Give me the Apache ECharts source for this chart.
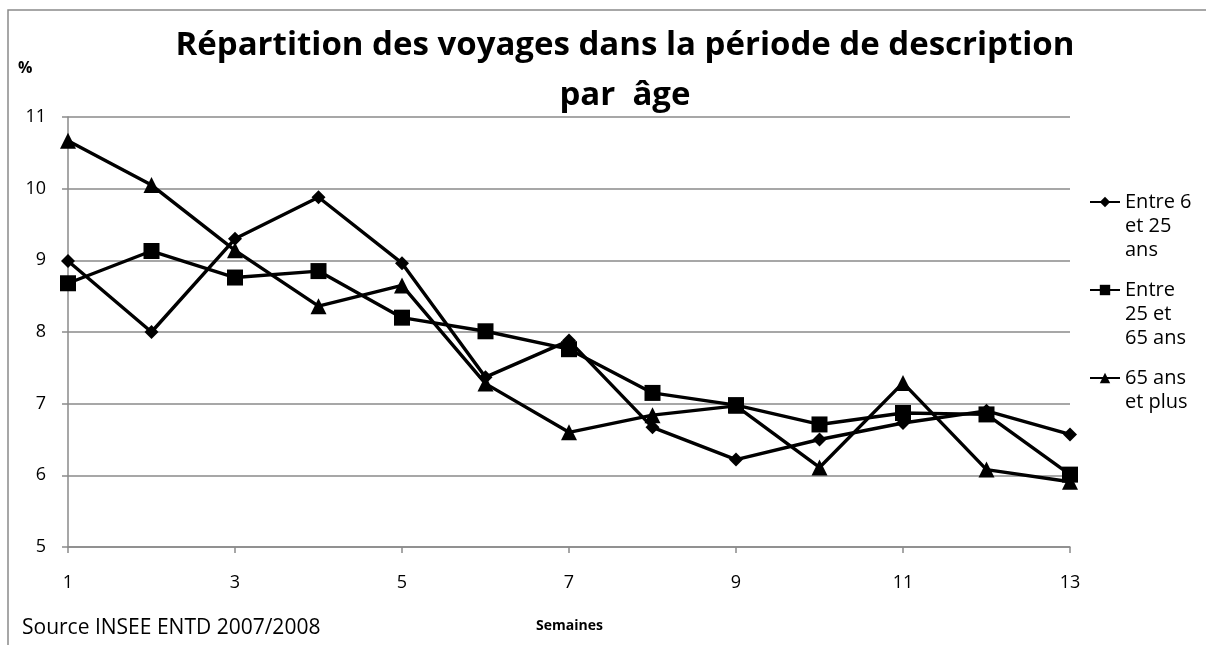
<!DOCTYPE html>
<html><head><meta charset="utf-8">
<script src="https://cdn.jsdelivr.net/npm/echarts@6/dist/echarts.min.js"></script>
<style>html,body{margin:0;padding:0;background:#fff}#c{width:1206px;height:645px}</style>
</head><body><div id="c"></div>
<script>
const weeks = ['1','2','3','4','5','6','7','8','9','10','11','12','13'];
const seriesNames = ['Entre 6\net 25\nans', 'Entre\n25 et\n65 ans', '65 ans\net plus'];
const age6to25 = [8.99, 8.00, 9.30, 9.88, 8.96, 7.37, 7.88, 6.67, 6.22, 6.50, 6.73, 6.90, 6.57];
const age25to65 = [8.68, 9.13, 8.76, 8.85, 8.20, 8.01, 7.76, 7.15, 6.98, 6.71, 6.87, 6.85, 6.01];
const age65plus = [10.67, 10.05, 9.14, 8.36, 8.65, 7.28, 6.60, 6.84, 6.97, 6.11, 7.29, 6.08, 5.91];
const yTicks = [5, 6, 7, 8, 9, 10, 11];
const titleText = 'Répartition des voyages dans la période de description\npar  âge';

const FONT = '"Open Sans", sans-serif';
const gray = '#8a8a8a';
const chart = echarts.init(document.getElementById('c'), null, {renderer: 'canvas'});
const symbols = ['diamond', 'rect', 'triangle'];
const symSizes = [14, 16, 16];
const values = [age6to25, age25to65, age65plus];
const legendIconY = [202, 290, 378];
const LH = 24;

chart.setOption({
  animation: false,
  backgroundColor: '#fff',
  textStyle: {fontFamily: FONT},
  title: {
    text: titleText, left: 620, top: 16, textAlign: 'center',
    textStyle: {fontFamily: FONT, fontWeight: 'bold', fontSize: 33, lineHeight: 50, color: '#000'}
  },
  grid: {left: 68, right: 136, top: 117, bottom: 98},
  legend: seriesNames.map((n, i) => {
    const nl = n.split('\n').length;
    const total = 2 * nl - 1;
    return {
      data: [n], left: 1089, top: legendIconY[i] - total * LH / 2,
      orient: 'vertical', padding: 0, itemWidth: 30, itemHeight: 13, selectedMode: false,
      formatter: name => '\n'.repeat(nl - 1) + name,
      textStyle: {fontFamily: FONT, fontSize: 20, color: '#000', lineHeight: LH}
    };
  }),
  xAxis: {
    type: 'category', data: weeks, boundaryGap: false,
    axisLine: {lineStyle: {color: gray, width: 1.5}},
    axisTick: {show: true, interval: 1, length: 6, lineStyle: {color: gray, width: 1.5}},
    axisLabel: {interval: 1, margin: 27, fontSize: 18, color: '#000', fontFamily: FONT},
    splitLine: {show: false}
  },
  yAxis: {
    type: 'value', min: yTicks[0], max: yTicks[yTicks.length - 1], interval: 1,
    axisLine: {show: true, lineStyle: {color: gray, width: 1.5}},
    axisTick: {show: true, length: 6, lineStyle: {color: gray, width: 1.5}},
    axisLabel: {margin: 22, fontSize: 18, color: '#000', fontFamily: FONT},
    splitLine: {lineStyle: {color: gray, width: 1.5}}
  },
  series: seriesNames.map((n, i) => ({
    name: n, type: 'line', data: values[i], symbol: symbols[i], symbolSize: symSizes[i],
    showAllSymbol: true,
    itemStyle: {color: '#000'}, lineStyle: {color: '#000', width: 3.4}
  })),
  graphic: [
    {type: 'rect', shape: {x: 8, y: 10, width: 1240, height: 700}, style: {fill: 'none', stroke: gray, lineWidth: 1.5}, silent: true, z: -1},
    {type: 'text', left: 18, top: 60, style: {text: '%', font: 'bold 16px ' + FONT, fill: '#000'}},
    {type: 'text', left: 22, top: 618, style: {text: 'Source INSEE ENTD 2007/2008', font: '21px ' + FONT, fill: '#000'}},
    {type: 'text', left: 536, top: 619, style: {text: 'Semaines', font: 'bold 14px ' + FONT, fill: '#000'}}
  ]
});
</script></body></html>
